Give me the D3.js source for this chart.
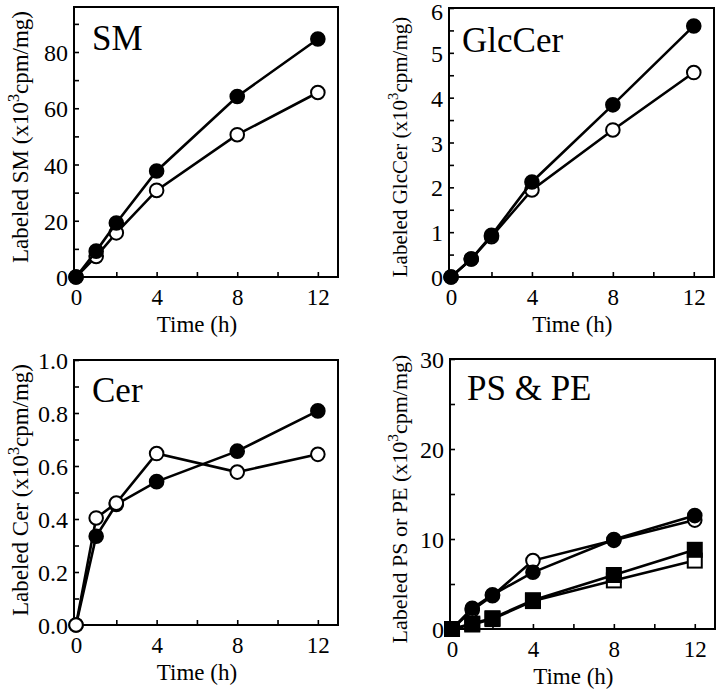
<!DOCTYPE html>
<html>
<head>
<meta charset="utf-8">
<script src="https://cdn.jsdelivr.net/npm/d3@7"></script>
<style>
  html, body { margin: 0; padding: 0; background: #fff; }
  svg text { font-family: "Liberation Serif", "Times New Roman", Times, Tinos, "DejaVu Serif", serif !important; fill: #000; }
</style>
</head>
<body>
<svg id="chart" width="720" height="691"></svg>
<script>
// ---------- data ----------
const times = [0, 1, 2, 4, 8, 12];
const xTickLabels = [0, 4, 8, 12];

const smFilled  = [0, 9.2, 19.2, 37.7, 64.2, 84.6];
const smOpen    = [0, 7.3, 15.7, 30.8, 50.6, 65.6];

const glcFilled = [0, 0.40, 0.93, 2.12, 3.84, 5.60];
const glcOpen   = [0, 0.40, 0.90, 1.94, 3.28, 4.56];

const cerFilled = [0, 0.335, 0.455, 0.541, 0.656, 0.808];
const cerOpen   = [0, 0.404, 0.460, 0.647, 0.577, 0.644];

const psFilled  = [0, 2.3, 3.8, 6.3, 9.95, 12.6];
const psOpen    = [0, 2.1, 3.7, 7.6, 9.85, 12.1];
const peFilled  = [0, 0.6, 1.2, 3.2, 6.0, 8.8];
const peOpen    = [0, 0.5, 1.1, 3.1, 5.4, 7.6];

const smYTicks  = [0, 20, 40, 60, 80];
const glcYTicks = [0, 1, 2, 3, 4, 5, 6];
const cerYTicks = [0, 0.2, 0.4, 0.6, 0.8, 1.0];
const psYTicks  = [0, 10, 20, 30];

// ---------- layout / styles ----------
const FONT = '"Liberation Serif", "Times New Roman", Times, Tinos, "DejaVu Serif", serif';
const Y_TICK_SIZE = 24;
const panels = [
  { title: "SM", label: ["Labeled SM (x10", "3", "cpm/mg)"], labelSize: 23,
    box: { l: 74, t: 7, r: 338, b: 277 }, yMax: 96, yTicks: smYTicks, yMinorStep: 10, yFmt: d3.format("d"),
    labelX: 28, labelY: 137, titleX: 92, titleY: 50,
    series: [ { v: smOpen, shape: "circle", fill: "#fff" }, { v: smFilled, shape: "circle", fill: "#000" } ] },
  { title: "GlcCer", label: ["Labeled GlcCer (x10", "3", "cpm/mg)"], labelSize: 21,
    box: { l: 449, t: 8, r: 714, b: 277 }, yMax: 6, yTicks: glcYTicks, yMinorStep: 0.5, yFmt: d3.format("d"),
    labelX: 407, labelY: 147, titleX: 462, titleY: 52,
    series: [ { v: glcOpen, shape: "circle", fill: "#fff" }, { v: glcFilled, shape: "circle", fill: "#000" } ] },
  { title: "Cer", label: ["Labeled Cer (x10", "3", "cpm/mg)"], labelSize: 23,
    box: { l: 74, t: 360, r: 338, b: 625 }, yMax: 1.0, yTicks: cerYTicks, yMinorStep: 0.1, yFmt: d3.format(".1f"),
    labelX: 28, labelY: 490, titleX: 92, titleY: 402,
    series: [ { v: cerFilled, shape: "circle", fill: "#000" }, { v: cerOpen, shape: "circle", fill: "#fff" } ] },
  { title: "PS & PE", label: ["Labeled PS or PE (x10", "3", "cpm/mg)"], labelSize: 22,
    box: { l: 450, t: 359, r: 715, b: 629 }, yMax: 30, yTicks: psYTicks, yMinorStep: 5, yFmt: d3.format("d"),
    labelX: 407, labelY: 499, titleX: 467, titleY: 400,
    series: [ { v: peOpen, shape: "square", fill: "#fff" }, { v: peFilled, shape: "square", fill: "#000" },
              { v: psOpen, shape: "circle", fill: "#fff" }, { v: psFilled, shape: "circle", fill: "#000" } ] }
];

const svg = d3.select("#chart");

panels.forEach(p => {
  const { l, t, r, b } = p.box;
  const x = d3.scaleLinear().domain([-0.1, 13]).range([l, r]);
  const y = d3.scaleLinear().domain([0, p.yMax]).range([b, t]);
  const g = svg.append("g");

  // frame
  g.append("rect").attr("x", l).attr("y", t).attr("width", r - l).attr("height", b - t)
    .attr("fill", "none").attr("stroke", "#000").attr("stroke-width", 2);

  // y axis (inward ticks)
  const minorY = d3.range(0, p.yMax + 1e-9, p.yMinorStep);
  const yAxis = g.append("g").attr("transform", `translate(${l},0)`)
    .call(d3.axisLeft(y).tickValues(minorY).tickSizeInner(-5).tickSizeOuter(0).tickFormat(""));
  yAxis.select(".domain").remove();
  yAxis.selectAll(".tick line").attr("stroke-width", 1.6);

  const yLab = g.append("g").attr("transform", `translate(${l},0)`)
    .call(d3.axisLeft(y).tickValues(p.yTicks).tickSize(0).tickPadding(6).tickFormat(p.yFmt));
  yLab.select(".domain").remove();
  yLab.attr("font-family", FONT);
  yLab.selectAll("text").attr("font-size", Y_TICK_SIZE).attr("dy", "0.36em").attr("font-family", FONT)
    .attr("y", d => Math.max(0, Y_TICK_SIZE * 0.4 + 1 - y(d)));

  // x axis (inward ticks)
  const minorX = d3.range(2, 13, 2);
  const xAxis = g.append("g").attr("transform", `translate(0,${b})`)
    .call(d3.axisBottom(x).tickValues(minorX).tickSizeInner(-5).tickSizeOuter(0).tickFormat(""));
  xAxis.select(".domain").remove();
  xAxis.selectAll(".tick line").attr("stroke-width", 1.6);

  const xLab = g.append("g").attr("transform", `translate(0,${b})`)
    .call(d3.axisBottom(x).tickValues(xTickLabels).tickSize(0).tickPadding(0).tickFormat(d3.format("d")));
  xLab.select(".domain").remove();
  xLab.attr("font-family", FONT);
  xLab.selectAll("text").attr("font-size", 23).attr("y", 28).attr("dy", 0).attr("font-family", FONT);

  // x title
  g.append("text").attr("x", x(6)).attr("y", b + 55).attr("text-anchor", "middle")
    .attr("font-family", FONT).attr("font-size", 23).text("Time (h)");

  // y title with superscript
  const yt = g.append("text")
    .attr("transform", `translate(${p.labelX},${p.labelY}) rotate(-90)`)
    .attr("text-anchor", "middle").attr("font-family", FONT).attr("font-size", p.labelSize);
  yt.append("tspan").text(p.label[0]);
  yt.append("tspan").attr("font-size", p.labelSize * 0.7).attr("dy", -9).text(p.label[1]);
  yt.append("tspan").attr("dy", 9).text(p.label[2]);

  // panel title
  g.append("text").attr("x", p.titleX).attr("y", p.titleY).attr("font-family", FONT)
    .attr("font-size", 35).text(p.title);

  // series
  const line = d3.line().x((d, i) => x(times[i])).y(d => y(d));
  p.series.forEach(s => {
    g.append("path").datum(s.v).attr("d", line)
      .attr("fill", "none").attr("stroke", "#000").attr("stroke-width", 2.6);
    if (s.shape === "circle") {
      g.selectAll(null).data(s.v).enter().append("circle")
        .attr("cx", (d, i) => x(times[i])).attr("cy", d => y(d)).attr("r", 6.8)
        .attr("fill", s.fill).attr("stroke", "#000").attr("stroke-width", 2);
    } else {
      const side = 14;
      g.selectAll(null).data(s.v).enter().append("rect")
        .attr("x", (d, i) => x(times[i]) - side / 2).attr("y", d => y(d) - side / 2)
        .attr("width", side).attr("height", side)
        .attr("fill", s.fill).attr("stroke", "#000").attr("stroke-width", 2);
    }
  });
});
</script>
</body>
</html>
